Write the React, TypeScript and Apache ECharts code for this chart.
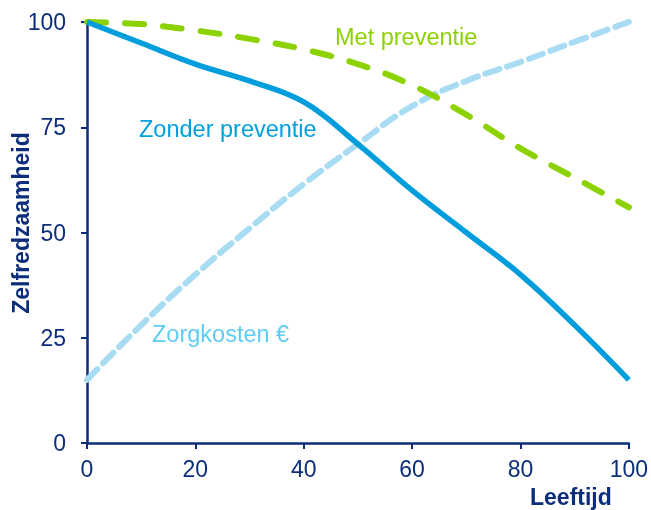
import React, { useEffect, useRef } from "react";
import * as echarts from "echarts";

const ages = [0, 10, 20, 30, 40, 50, 60, 70, 80, 90, 100];
const zonderPreventie = [100, 95, 90, 86, 81, 71, 60, 50, 40, 28, 15];
const metPreventie = [100, 99.5, 98, 96, 93.5, 90, 85, 78, 70, 63, 56];
const zorgkosten = [15, 28, 40, 51, 61.5, 71, 80, 86, 90.5, 95.3, 100];
const xTicks = [0, 20, 40, 60, 80, 100];
const yTicks = [0, 25, 50, 75, 100];

const AXIS = "#0b2d7a";
const FONT = "Liberation Sans, Arial, sans-serif";

export default function App() {
  const ref = useRef<HTMLDivElement>(null);
  useEffect(() => {
    if (!ref.current) return;
    const chart = echarts.init(ref.current, null, { renderer: "svg" });
    const pair = (ys: number[]) => ages.map((a, i) => [a, ys[i]]);
    chart.setOption({
      animation: false,
      grid: { left: 87, right: 21, top: 22, bottom: 67 },
      xAxis: {
        type: "value",
        min: xTicks[0],
        max: xTicks[xTicks.length - 1],
        interval: 20,
        axisLine: { lineStyle: { color: AXIS, width: 2.5 } },
        axisTick: { show: true, length: 6, lineStyle: { color: AXIS, width: 2 } },
        axisLabel: { color: AXIS, fontSize: 23, fontFamily: FONT, margin: 14 },
        splitLine: { show: false },
      },
      yAxis: {
        type: "value",
        min: yTicks[0],
        max: yTicks[yTicks.length - 1],
        interval: 25,
        axisLine: { show: true, lineStyle: { color: AXIS, width: 2.5 } },
        axisTick: { show: true, length: 6, lineStyle: { color: AXIS, width: 2 } },
        axisLabel: { color: AXIS, fontSize: 23, fontFamily: FONT, margin: 21 },
        splitLine: { show: false },
      },
      series: [
        {
          type: "line",
          data: pair(zorgkosten),
          smooth: 0.5,
          symbol: "none",
          lineStyle: { color: "#a8dcf2", width: 6, type: [15, 8], cap: "round" },
          z: 1,
        },
        {
          type: "line",
          data: pair(metPreventie),
          smooth: 0.4,
          symbol: "none",
          lineStyle: { color: "#8cd200", width: 6, type: [19, 19], cap: "round" },
          z: 2,
        },
        {
          type: "line",
          data: pair(zonderPreventie),
          smooth: 0.4,
          symbol: "none",
          lineStyle: { color: "#009ddc", width: 5.5 },
          z: 3,
        },
      ],
      graphic: [
        {
          type: "text",
          left: 335,
          top: 25,
          style: { text: "Met preventie", fill: "#8cd200", fontSize: 23.5, fontFamily: FONT },
        },
        {
          type: "text",
          left: 139,
          top: 117,
          style: { text: "Zonder preventie", fill: "#00a0dc", fontSize: 23.5, fontFamily: FONT },
        },
        {
          type: "text",
          left: 152,
          top: 322,
          style: { text: "Zorgkosten €", fill: "#5ccdf5", fontSize: 23.5, fontFamily: FONT },
        },
        {
          type: "text",
          left: 530,
          top: 485,
          style: { text: "Leeftijd", fill: AXIS, fontSize: 23, fontWeight: "bold", fontFamily: FONT },
        },
        {
          type: "text",
          x: 21,
          y: 223,
          rotation: Math.PI / 2,
          style: {
            text: "Zelfredzaamheid",
            fill: AXIS,
            fontSize: 23,
            fontWeight: "bold",
            fontFamily: FONT,
            align: "center",
            verticalAlign: "middle",
          },
        },
      ],
    });
    return () => chart.dispose();
  }, []);
  return (
    <div
      ref={ref}
      style={{ position: "fixed", left: 0, top: 0, width: 651, height: 510 }}
    />
  );
}
